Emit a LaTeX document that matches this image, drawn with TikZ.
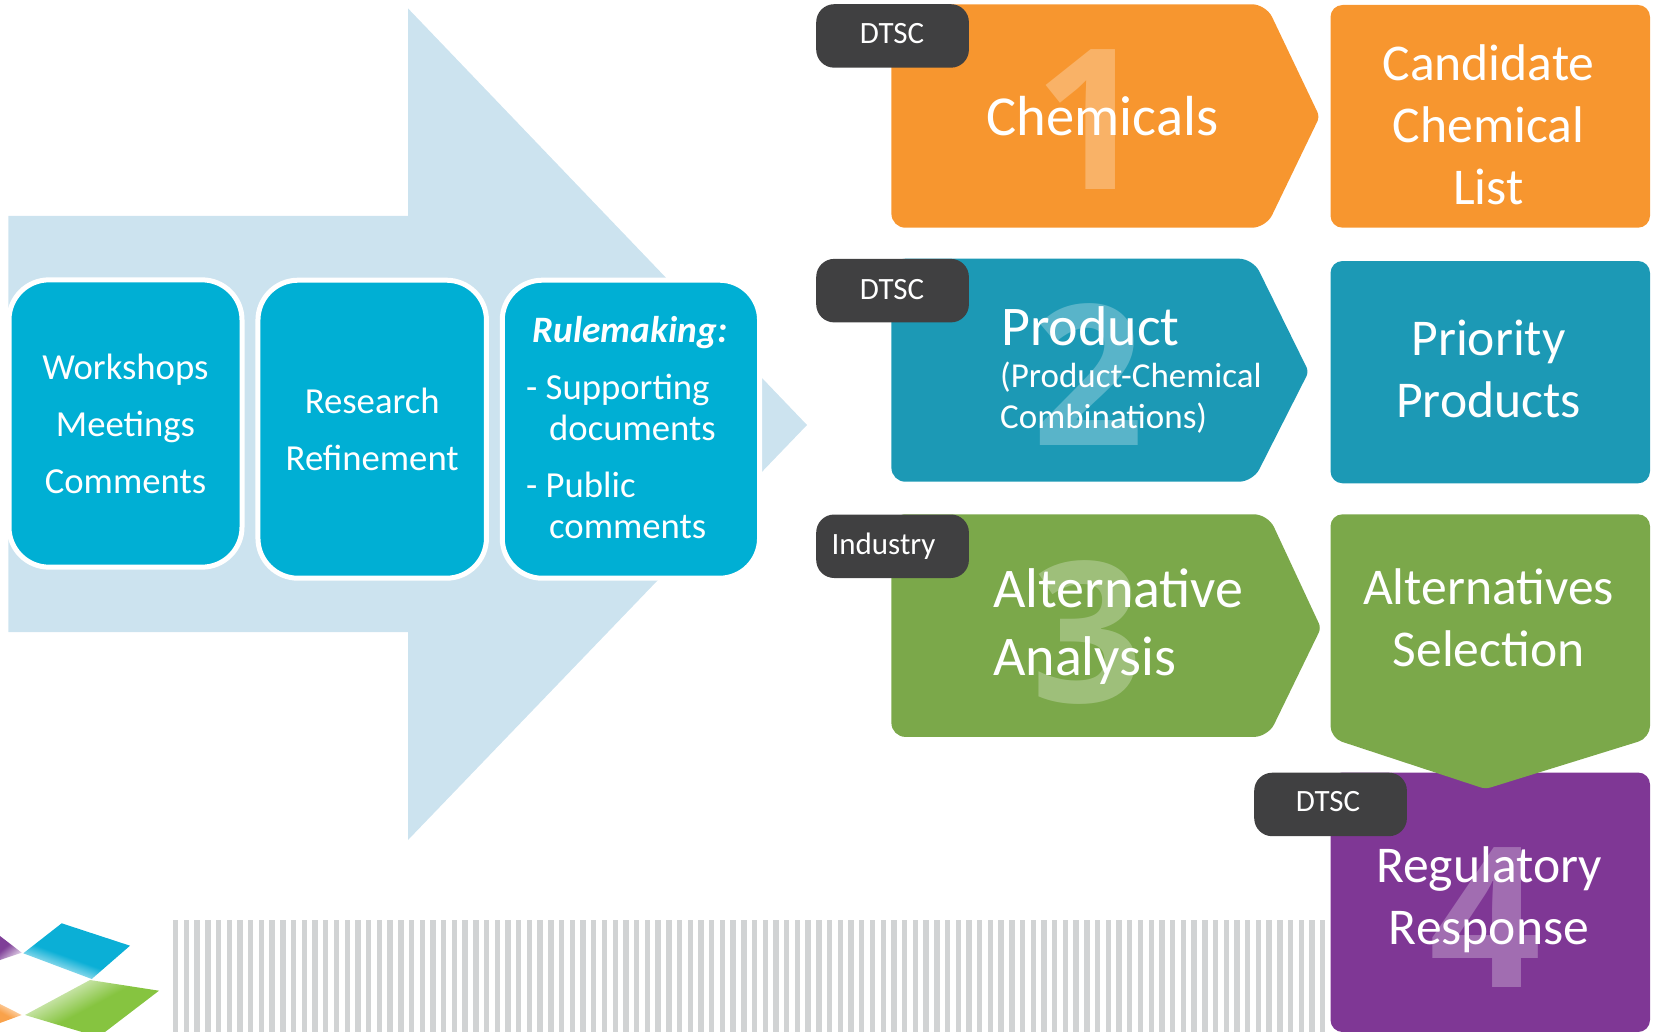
\documentclass[tikz,border=0pt]{standalone}
\usepackage{fontspec}
\setmainfont{Carlito}
\newfontfamily\digitfont{Open Sans}
\definecolor{bigarrow}{HTML}{CCE3EF}
\definecolor{stepblue}{HTML}{00AFD4}
\definecolor{stripe}{HTML}{D1D3D4}
\definecolor{orangec}{HTML}{F7962F}
\definecolor{tealc}{HTML}{1C99B5}
\definecolor{greenc}{HTML}{7BA84A}
\definecolor{purplec}{HTML}{7F3795}
\definecolor{tagc}{HTML}{404041}
\definecolor{logoblue}{HTML}{0BAFD6}
\definecolor{logogreen}{HTML}{86C440}
\definecolor{logopurple}{HTML}{7F3F98}
\definecolor{logoorange}{HTML}{F9A24B}
\pgfdeclareverticalshading{bluefade}{100bp}{color(0bp)=(white); color(30bp)=(logoblue!25); color(44bp)=(logoblue); color(100bp)=(logoblue)}
\pgfdeclareverticalshading{greenfade}{100bp}{color(0bp)=(white); color(28bp)=(logogreen!25); color(50bp)=(logogreen); color(100bp)=(logogreen)}
\pgfdeclareverticalshading{purplefade}{100bp}{color(0bp)=(white); color(30bp)=(logopurple!30); color(60bp)=(logopurple); color(100bp)=(logopurple)}
\pgfdeclareverticalshading{orangefade}{100bp}{color(0bp)=(white); color(30bp)=(logoorange!35); color(60bp)=(logoorange); color(100bp)=(logoorange)}
\newcommand\fs[2]{\fontsize{#1}{#2}\selectfont}
\tikzset{
  stepbox/.style={draw=white,line width=5pt,fill=stepblue,rounded corners=40pt,text=white,align=center,inner sep=0pt,font=\fs{36.7}{57}},
  tagbox/.style={fill=tagc,rounded corners=18pt,text=white,inner sep=0pt,minimum width=152.7pt,minimum height=63.5pt,anchor=north west},
  tagtext/.style={text=white,font=\fs{31}{36},inner sep=0pt},
  outbox/.style={rounded corners=12pt},
  bignum/.style={text=white,text opacity=0.27,inner sep=0pt,font=\digitfont\bfseries\fs{196}{200}},
  big/.style={text=white,align=center,inner sep=0pt,font=\fs{51.6}{62}},
  huge/.style={text=white,align=left,inner sep=0pt,anchor=west,font=\fs{56}{68}},
}
\begin{document}
\begin{tikzpicture}[x=1pt,y=-1pt]
\useasboundingbox (0,0) rectangle (1653,1032);
% big background arrow
\fill[bigarrow] (8.4,216) -- (408,216) -- (408,8.4) -- (807,425) -- (408,840) -- (408,632) -- (8.4,632) -- cycle;
% stripes
\foreach \i in {0,...,107} {
  \fill[stripe] ({173+\i*10.72},920) rectangle ++(5.4,112);
}
% logo
\shade[shading=bluefade,shading angle=-20] (61.7,923.3) -- (130,945.7) -- (91.7,979) -- (23.3,953.3) -- cycle;
\shade[shading=greenfade,shading angle=-152] (90,980) -- (159,990.7) -- (105,1032) -- (82,1032) -- (25,1015) -- cycle;
\shade[shading=purplefade,shading angle=40] (0,936) -- (21.7,952.7) -- (0,960) -- cycle;
\shade[shading=orangefade,shading angle=150] (0,1004) -- (21.7,1015) -- (0,1023) -- cycle;
% left step boxes
\node[stepbox,minimum width=233pt,minimum height=287.3pt] (workshops) at (125.5,423.5) {Workshops\\Meetings\\Comments};
\node[stepbox,minimum width=228.5pt,minimum height=298pt] (research) at (372.2,429.2) {Research\\Refinement};
\node[stepbox,minimum width=257.3pt,minimum height=298pt] (rulebox) at (630.9,429.2) {};
\node[text=white,inner sep=0pt,font=\bfseries\itshape\fs{37.3}{44}] (ruletitle) at (630,333) {Rulemaking:};
\node[text=white,inner sep=0pt,align=left,anchor=west,font=\fs{36.7}{41}] (rulebody) at (526,461)
  {\strut- Supporting\\\hspace*{23pt}documents\\[16pt]- Public\\\hspace*{23pt}comments\strut};
% step 1
\fill[orangec] [rounded corners=14pt] (891.4,4.3) -- (1266,4.3) [rounded corners=5pt] -- (1319.6,116.7) [rounded corners=14pt] -- (1266,227.7) -- (891.4,227.7) -- cycle;
\node[bignum] (n1) at (1090,120) {1};
\node[text=white,inner sep=0pt,font=\fs{56.5}{70}] (chem) at (1102.5,116) {Chemicals};
\fill[orangec,outbox] (1330.5,5) rectangle (1650,227.7);
\node[big] (cand) at (1488.5,130) {\strut Candidate\\Chemical\\List\strut};
\node[tagbox] (tag1) at (816,4) {};
\node[tagtext] at (892,34) {DTSC};
% step 2
\fill[tealc] [rounded corners=14pt] (891.4,258.7) -- (1253,258.7) [rounded corners=5pt] -- (1308.7,371.7) [rounded corners=14pt] -- (1253,481.7) -- (891.4,481.7) -- cycle;
\node[bignum] (n2) at (1088,375) {2};
\node[text=white,inner sep=0pt,anchor=base west,font=\fs{56}{60}] (prod) at (1001,345) {Product};
\node[text=white,inner sep=0pt,align=left,anchor=west,font=\fs{35}{41}] (prodsub) at (1000,400) {\strut(Product-Chemical\\Combinations)\strut};
\fill[tealc,outbox] (1330.5,261) rectangle (1650,483.3);
\node[big] (prio) at (1488.5,374) {\strut Priority\\Products\strut};
\node[tagbox] (tag2) at (816,258.7) {};
\node[tagtext] at (892,290) {DTSC};
% step 4 (beneath the green box point)
\fill[purplec,outbox] (1330.5,772.5) -- (1650,772.5) -- (1650,1032) -- (1330.5,1032) -- cycle;
\node[bignum] (n4) at (1485,918) {4};
\node[big] (reg) at (1489,901) {\strut Regulatory\\Response\strut};
% step 3
\fill[greenc] [rounded corners=14pt] (891.4,514.3) -- (1268,514.3) [rounded corners=5pt] -- (1321,628) [rounded corners=14pt] -- (1268,736.9) -- (891.4,736.9) -- cycle;
\node[bignum] (n3) at (1087,632) {3};
\node[huge] (alt) at (993,628) {\strut Alternative\\Analysis\strut};
\fill[greenc] [rounded corners=12pt] (1330.5,514.3) -- (1650,514.3) -- (1650,738) [rounded corners=5pt] -- (1485.5,789) [rounded corners=12pt] -- (1330.5,738) -- cycle;
\node[big] (sel) at (1488.5,623.5) {\strut Alternatives\\Selection\strut};
\node[tagbox] (tag3) at (816,514.3) {};
\node[tagtext] at (883.5,546) {Industry};
\node[tagbox] (tag4) at (1254,772.5) {};
\node[tagtext] at (1328,802) {DTSC};
\end{tikzpicture}
\end{document}
